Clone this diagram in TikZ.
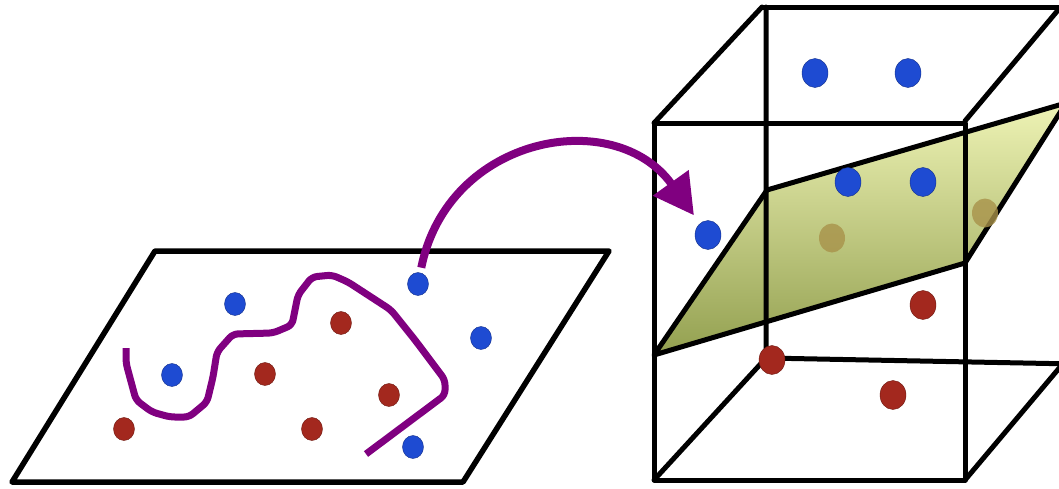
\documentclass[tikz,border=0pt]{standalone}
\usetikzlibrary{arrows.meta,shapes.geometric}
\definecolor{dotBlue}{HTML}{1E4BD2}
\definecolor{dotBlueEdge}{HTML}{15318A}
\definecolor{dotRed}{HTML}{A3281E}
\definecolor{dotRedEdge}{HTML}{6E1A12}
\definecolor{dotHidden}{HTML}{A8924A}
\definecolor{walkPurple}{HTML}{800080}
\definecolor{planeTop}{HTML}{EEF3B5}
\definecolor{planeBottom}{HTML}{93A050}
\tikzset{
  wire/.style={line width=5pt, line join=round, line cap=round},
  dot/.style={ellipse, inner sep=0pt, minimum width=21pt, minimum height=23pt},
  bigdot/.style={minimum width=26pt, minimum height=29pt},
  bluedot/.style={dot, fill=dotBlue, draw=dotBlueEdge, thin},
  reddot/.style={dot, fill=dotRed, draw=dotRedEdge, thin},
  hiddendot/.style={dot, bigdot, fill=dotHidden, fill opacity=0.8},
  walk/.style={walkPurple, line width=7pt, rounded corners=5pt},
  maparrow/.style={-{Triangle[length=40pt, width=42pt]}, walkPurple,
                   line width=8pt},
}

\begin{document}
\begin{tikzpicture}[x=1pt, y=-1pt]
\useasboundingbox (0,0) rectangle (1059,488);
\clip (0,0) rectangle (1059,488);

% ------------------------------------------------------ the input plane
\draw[wire, line width=5.5pt] (155,251) -- (609,251) -- (463,482) -- (12,482) -- cycle;

\foreach \k/\x/\y in {1/235/304, 2/172/375, 3/418/284, 4/481/338, 5/413/447}
  \node[bluedot] (lb\k) at (\x,\y) {};
\foreach \k/\x/\y in {1/124/429, 2/265/374, 3/341/323, 4/389/395, 5/312/429}
  \node[reddot] (lr\k) at (\x,\y) {};

% the curve through the data
\draw[walk] (126,348) -- (126,363) -- (136,400) -- (152,412) -- (170,417)
  -- (189,417) -- (207,402) -- (213,377) -- (217,352) -- (233,334)
  -- (273,333) -- (292,325) -- (298,295) -- (312,277) -- (332,275)
  -- (348,282) -- (391,310) -- (415,340) -- (445,380) -- (445,395)
  -- (366,454);

% ---------------------------------------------------- the feature space
\shade[top color=planeTop, bottom color=planeBottom]
  (654,355) -- (767,190) -- (1066,103) -- (965,263) -- cycle;

% back face and depth edges
\draw[wire] (762,7) -- (1075,7);
\draw[wire] (766,7) -- (766,358) -- (1075,364);
\draw[wire] (654,123) -- (762,7);
\draw[wire] (965,121) -- (1064,3);
\draw[wire] (654,480) -- (766,358);
\draw[wire] (965,480) -- (1066,360);

% front face
\draw[wire] (654,123) rectangle (965,480);

% the separating plane
\draw[wire] (654,355) -- (767,190) -- (1066,103) -- (965,263) -- cycle;

\foreach \k/\x/\y in {1/815/73, 2/908/73, 3/848/182, 4/923/182, 5/708/235}
  \node[bluedot, bigdot] (cb\k) at (\x,\y) {};
\foreach \k/\x/\y in {1/923/305, 2/772/360, 3/893/395}
  \node[reddot, bigdot] (cr\k) at (\x,\y) {};
\foreach \k/\x/\y in {1/832/238, 2/985/213}
  \node[hiddendot] (ch\k) at (\x,\y) {};

% ------------------------------------------------------------- the map
\draw[maparrow, shorten <=5pt, shorten >=10pt]
  (lb3) .. controls (448,135) and (615,105) .. (cb5);

\end{tikzpicture}
\end{document}
